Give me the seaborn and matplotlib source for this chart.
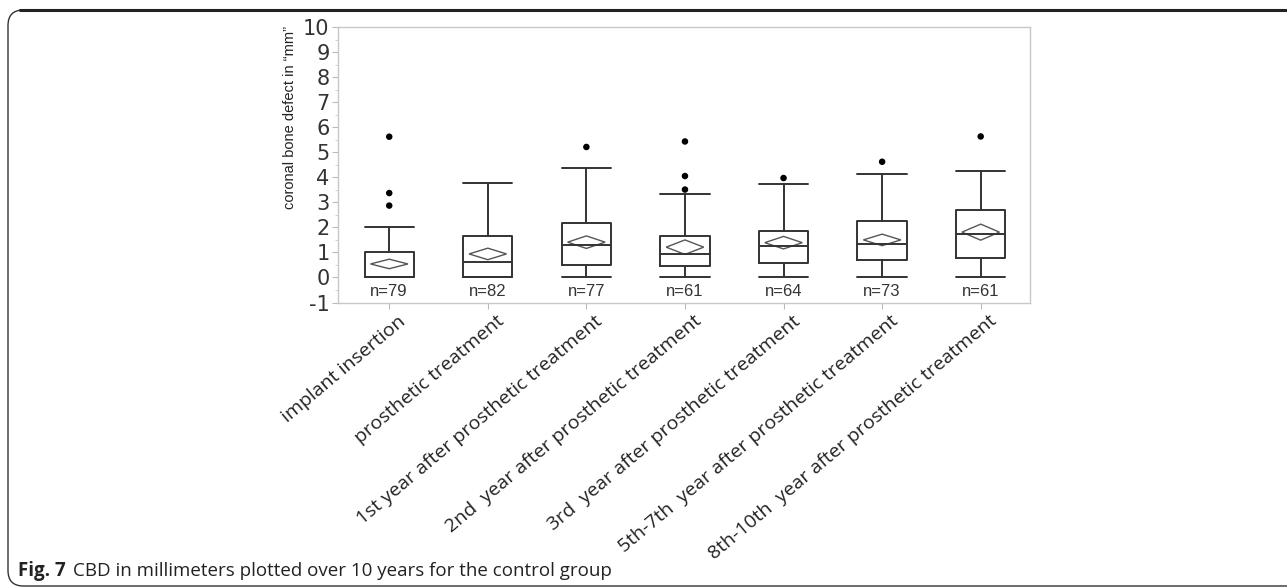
import numpy as np
import pandas as pd
import matplotlib.pyplot as plt
import seaborn as sns
from matplotlib.patches import FancyBboxPatch, Polygon
from matplotlib.lines import Line2D
import matplotlib.transforms as mtransforms

# -----------------------------
# Data
# -----------------------------
groups = ['implant insertion', 'prosthetic treatment',
          '1st year after prosthetic treatment',
          '2nd  year after prosthetic treatment',
          '3rd  year after prosthetic treatment',
          '5th-7th  year after prosthetic treatment',
          '8th-10th  year after prosthetic treatment']
n_obs = [79, 82, 77, 61, 64, 73, 61]

whisker_low = [0.0, 0.0, 0.0, 0.0, 0.0, 0.0, 0.0]
q1 = [0.0, 0.0, 0.51, 0.47, 0.57, 0.70, 0.77]
median = [0.0, 0.63, 1.31, 0.94, 1.26, 1.35, 1.73]
q3 = [1.03, 1.66, 2.17, 1.66, 1.86, 2.27, 2.71]
whisker_high = [2.03, 3.77, 4.38, 3.35, 3.73, 4.14, 4.27]

# means diamonds: mean and half height (confidence interval)
mean = [0.54, 0.94, 1.41, 1.21, 1.39, 1.50, 1.81]
ci_half = [0.19, 0.23, 0.25, 0.29, 0.25, 0.23, 0.32]

# outliers
outlier_group = [0, 0, 0, 2, 3, 3, 3, 4, 5, 6]
outlier_value = [5.62, 3.37, 2.87, 5.21, 5.43, 4.05, 3.51, 3.97, 4.62, 5.63]

# -----------------------------
# Figure
# -----------------------------
sns.set_style("white")
plt.rcParams['font.family'] = ['DejaVu Sans']
plt.rcParams['axes.unicode_minus'] = False

fig = plt.figure(figsize=(12.87, 5.88), dpi=100)
ax = fig.add_axes([0.2626, 0.4855, 0.5377, 0.4686])

box_col = '#333333'
stats = []
for i in range(len(groups)):
    stats.append(dict(whislo=whisker_low[i], q1=q1[i], med=median[i],
                      q3=q3[i], whishi=whisker_high[i], fliers=[]))

ax.bxp(stats, positions=range(len(groups)), widths=0.5, showfliers=False,
       boxprops=dict(color=box_col, linewidth=1.4),
       medianprops=dict(color=box_col, linewidth=1.4),
       whiskerprops=dict(color=box_col, linewidth=1.4),
       capprops=dict(color=box_col, linewidth=1.4),
       capwidths=0.5, manage_ticks=False)

# means diamonds
for i, (m, h) in enumerate(zip(mean, ci_half)):
    w = 0.19
    diamond = Polygon([(i - w, m), (i, m + h), (i + w, m), (i, m - h)],
                      closed=True, fill=False, edgecolor='#555555', linewidth=1.0)
    ax.add_patch(diamond)

# outliers
out_df = pd.DataFrame({'pos': outlier_group, 'val': outlier_value})
sns.scatterplot(data=out_df, x='pos', y='val', color='black', s=22,
                edgecolor='none', ax=ax, legend=False)

# n= labels
for i, n in enumerate(n_obs):
    ax.text(i, -0.55, 'n=%d' % n, ha='center', va='center', fontsize=12,
            color='#333333', family='Liberation Sans')

ax.set_xlim(-0.52, 6.5)
ax.set_ylim(-1, 10)
ax.set_yticks(range(-1, 11))
ax.set_yticks(np.arange(-1, 10.01, 0.5), minor=True)
ax.set_xticks(range(len(groups)))
ax.set_xlabel('')
ax.set_ylabel('coronal bone defect in \u201cmm\u201d', fontsize=10.5,
              family='Liberation Sans', color='#222222')
ax.yaxis.set_label_coords(-0.059, 0.67)

for s in ax.spines.values():
    s.set_color('#c8c8c8')
    s.set_linewidth(1.0)

ax.tick_params(axis='y', which='major', length=4, width=0.8, color='#bbbbbb',
               labelsize=15, labelcolor='#333333', pad=2, left=True)
ax.tick_params(axis='y', which='minor', length=2, width=0.6, color='#cccccc', left=True)
ax.tick_params(axis='x', which='major', length=4, width=0.8, color='#bbbbbb', bottom=True)

ax.set_xticklabels(groups, rotation=40, ha='right', va='center',
                   rotation_mode='anchor', fontsize=14, color='#222222',
                   family='Open Sans')
offset = mtransforms.ScaledTranslation(14 / 100, -6 / 100, fig.dpi_scale_trans)
for lab in ax.get_xticklabels():
    lab.set_transform(lab.get_transform() + offset)

# caption
fig.text(0.014, 0.029, 'Fig. 7', fontsize=13.5, fontweight='bold',
         family='Open Sans', color='#222222', va='center')
fig.text(0.0565, 0.029, 'CBD in millimeters plotted over 10 years for the control group',
         fontsize=13.5, family='Open Sans', color='#222222', va='center')

# frame around the figure
frame = FancyBboxPatch((8 / 1287, 2 / 588), 1.2, 576 / 588,
                       boxstyle='round,pad=0,rounding_size=0.012',
                       transform=fig.transFigure, fill=False,
                       edgecolor='#333333', linewidth=1.0, mutation_aspect=2.2)
fig.patches.append(frame)
fig.lines.append(Line2D([20 / 1287, 1.0], [1 - 10 / 588, 1 - 10 / 588],
                        transform=fig.transFigure, color='#222222', linewidth=2.2))

fig.savefig('out.png', dpi=100)
